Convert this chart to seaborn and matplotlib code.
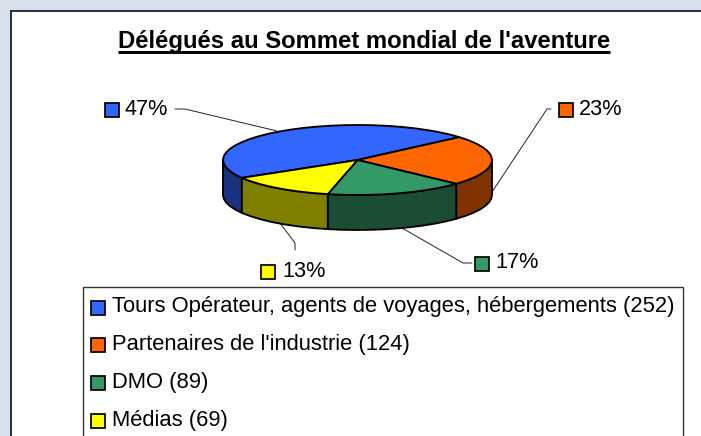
import numpy as np
import seaborn as sns
import matplotlib
matplotlib.use("Agg")
import matplotlib.pyplot as plt
from matplotlib.patches import Polygon, Rectangle

sns.set_theme(style="white")
plt.rcParams['font.family'] = ['Liberation Sans', 'DejaVu Sans']

title = "Délégués au Sommet mondial de l'aventure"
categories = ["Tours Opérateur, agents de voyages, hébergements (252)",
              "Partenaires de l'industrie (124)", "DMO (89)", "Médias (69)"]
values = np.array([252, 124, 89, 69])
pct_labels = ["47%", "23%", "17%", "13%"]
palette = sns.color_palette(["#3366FF", "#FF6600", "#339966", "#FFFF00"])

CX, CY, A, B, D = 357.5, 160, 134.5, 35, 35
START = 239.3  # degrees clockwise from top

fig = plt.figure(figsize=(7.01, 4.36), dpi=100, facecolor="#D6E1EC")
ax = fig.add_axes([0, 0, 1, 1])
ax.set_xlim(0, 701)
ax.set_ylim(436, 0)
ax.axis("off")

ax.add_patch(Rectangle((11, 11.5), 720, 460, fc="white", ec="#2A2F38", lw=1.4, zorder=1))

def ell(t, dy=0):
    r = np.radians(t)
    return np.column_stack([CX + A * np.sin(r), CY - B * np.cos(r) + dy])

fr = values / values.sum()
edges = START + 360 * np.concatenate([[0], np.cumsum(fr)])
EW = 1.35
for i, c in enumerate(palette):
    t0, t1 = edges[i], edges[i + 1]
    dark = tuple(0.5 * v for v in c)
    for lo, hi in [(90, 270), (450, 630)]:
        a, b = max(t0, lo), min(t1, hi)
        if a < b:
            ts = np.linspace(a, b, max(2, int((b - a) / 6) + 1))
            top, bot = ell(ts), ell(ts, D)
            ax.add_patch(Polygon(np.vstack([top, bot[::-1]]), fc=dark, ec="black", lw=EW, zorder=2, joinstyle="round"))
for i, c in enumerate(palette):
    ts = np.linspace(edges[i], edges[i + 1], max(2, int((edges[i + 1] - edges[i]) / 6) + 1))
    ax.add_patch(Polygon(np.vstack([[CX, CY], ell(ts)]), fc=c, ec="black", lw=EW, zorder=3, joinstyle="round"))

# title
ax.text(364, 48, title, fontsize=17.2, fontweight="bold", ha="center", va="baseline", color="black", zorder=5)
ax.plot([117.5, 610], [52.5, 52.5], color="black", lw=2.1, solid_capstyle="butt", zorder=5)

# leaders
leaders = [[(175, 109), (185, 109), (277, 131)],
           [(551, 109), (547, 109), (490, 195)],
           [(472, 263), (463, 263), (402, 228)],
           [(295, 250), (295, 243), (280, 223)]]
for pts in leaders:
    xs, ys = zip(*pts)
    ax.plot(xs, ys, color="#222222", lw=0.7, zorder=1.5)

# data labels
sq = [(104.5, 103), (559, 103), (475, 256.5), (261, 264.5)]
tx = [(124.5, 115), (578.5, 115), (495.5, 268), (282, 276.5)]
for i, c in enumerate(palette):
    ax.add_patch(Rectangle(sq[i], 14, 14, fc=c, ec="black", lw=1.25, zorder=4))
    ax.text(tx[i][0], tx[i][1], pct_labels[i], fontsize=15.6, ha="left", va="baseline", color="black", zorder=5)

# legend
ax.add_patch(Rectangle((83, 286.5), 600, 200, fc="white", ec="#333333", lw=1.0, zorder=1.2))
ly = [307.5, 345, 383, 420.5]
ty = [312, 350, 388, 426]
for i, c in enumerate(palette):
    ax.add_patch(Rectangle((91, ly[i] - 7), 14, 14, fc=c, ec="black", lw=1.25, zorder=4))
    ax.text(112, ty[i], categories[i], fontsize=15.8, ha="left", va="baseline", color="black", zorder=5)

fig.savefig("out.png", dpi=100, facecolor=fig.get_facecolor())
